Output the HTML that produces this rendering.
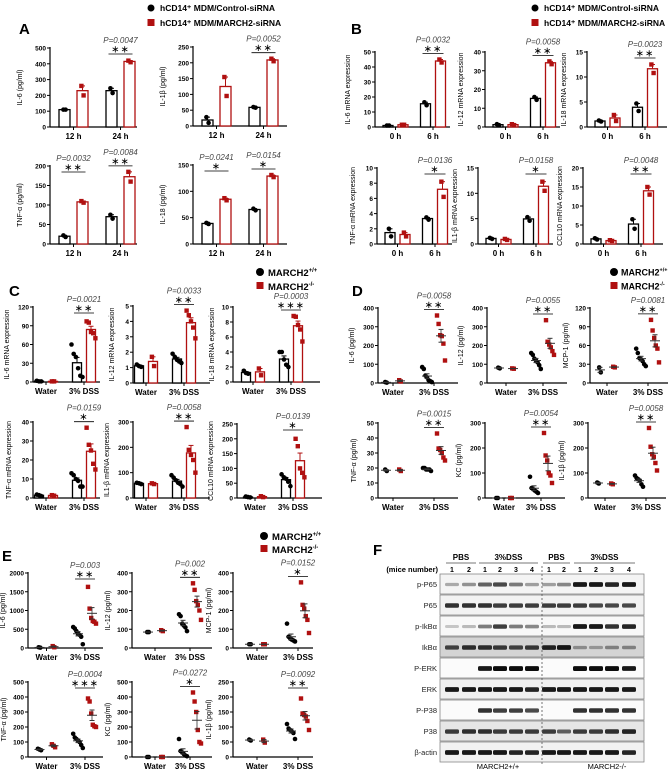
<!DOCTYPE html>
<html><head><meta charset="utf-8"><style>
body{margin:0;background:#fff}
svg{display:block;font-family:"Liberation Sans",Arial,sans-serif}
</style></head><body>
<svg id="fig" width="669" height="770" viewBox="0 0 669 770" xmlns="http://www.w3.org/2000/svg">
<g font-weight="bold" font-size="15" fill="#000">
<text x="19" y="34">A</text>
<text x="351" y="34">B</text>
<text x="9" y="296">C</text>
<text x="352" y="296">D</text>
<text x="2" y="561">E</text>
<text x="373" y="555">F</text>
</g>
<g font-weight="bold" font-size="8.5">
<circle cx="151" cy="8" r="3.5" fill="#000"/><text x="160" y="11">hCD14⁺ MDM/Control-siRNA</text>
<rect x="147.5" y="19" width="7" height="7" fill="#b01010"/><text x="160" y="26">hCD14⁺ MDM/MARCH2-siRNA</text>
</g>
<g font-weight="bold" font-size="8.5">
<circle cx="535" cy="8" r="3.5" fill="#000"/><text x="544" y="11">hCD14⁺ MDM/Control-siRNA</text>
<rect x="531.5" y="19" width="7" height="7" fill="#b01010"/><text x="544" y="26">hCD14⁺ MDM/MARCH2-siRNA</text>
</g>
<g font-weight="bold" font-size="9.5">
<circle cx="260" cy="272" r="4" fill="#000"/><text x="268" y="276">MARCH2<tspan font-size="6" dy="-4">+/+</tspan></text>
<rect x="256.5" y="282" width="7" height="7" fill="#b01010"/><text x="268" y="290">MARCH2<tspan font-size="6" dy="-4">-/-</tspan></text>
</g>
<g font-weight="bold" font-size="9">
<circle cx="614" cy="272" r="4" fill="#000"/><text x="621" y="275.5">MARCH2<tspan font-size="5.5" dy="-4">+/+</tspan></text>
<rect x="610.5" y="282" width="7" height="7" fill="#b01010"/><text x="621" y="289.5">MARCH2<tspan font-size="5.5" dy="-4">-/-</tspan></text>
</g>
<g font-weight="bold" font-size="9.5">
<circle cx="264" cy="536" r="4" fill="#000"/><text x="272" y="540">MARCH2<tspan font-size="6" dy="-4">+/+</tspan></text>
<rect x="260.5" y="545" width="7" height="7" fill="#b01010"/><text x="272" y="553">MARCH2<tspan font-size="6" dy="-4">-/-</tspan></text>
</g>
<g id="charts"></g>
<g id="blot"></g>
</svg>
<script>
// ---------- data (per chart: control points & treatment points per group) ----------
const a1Ctrl=[[110,110],[245,215]], a1Trt=[[260,200],[420,410]];
const a2Ctrl=[[28,10],[60,58]], a2Trt=[[155,95],[213,205]];
const a3Ctrl=[[22,18],[75,65]], a3Trt=[[110,106],[185,160]];
const a4Ctrl=[[40,38],[67,64]], a4Trt=[[87,83],[131,127]];
const b1Ctrl=[[1,1],[16.5,14.5]], b1Trt=[[1.5,1.5],[45,43]];
const b2Ctrl=[[1.5,1],[16,14.5]], b2Trt=[[1.5,1],[35,33.5]];
const b3Ctrl=[[1.3,1.1],[4.7,3.2]], b3Trt=[[2.4,1.2],[12.5,10.8]];
const b4Ctrl=[[2,1],[3.5,3.2]], b4Trt=[[1.5,1],[8.2,6.2]];
const b5Ctrl=[[1.2,1],[5.3,4.6]], b5Trt=[[1,0.8],[12.3,10.5]];
const b6Ctrl=[[1.5,1.2],[6.5,4]], b6Trt=[[1,0.8],[15,13]];
const c1Ctrl=[[2,1,1],[60,45,40,22,10,8]], c1Trt=[[1,1],[97,95,80,78,70]];
const c2Ctrl=[[1.2,1.1,1.05],[1.9,1.7,1.5,1.4,1.3]], c2Trt=[[1.7,1.1],[4.7,4.4,4.0,3.6,2.9]];
const c3Ctrl=[[1.5,1.2,1.1],[4.0,4.0,3.0,2.3,2.0]], c3Trt=[[1.8,0.9],[8.8,8.7,7.6,7.0,5.4]];
const c4Ctrl=[[1.8,1.5,1.0],[13,12,10,9,6,6]], c4Trt=[[1.5,1.2],[37,28,25,18,15]];
const c5Ctrl=[[60,58,55],[90,80,70,60,55,45]], c5Trt=[[58,55],[280,190,170,150,100]];
const c6Ctrl=[[5,3,2],[80,70,65,55,40]], c6Trt=[[6,3],[200,175,100,85,70]];
const d1Ctrl=[[5,2],[85,75,40,30,15,10,5]], d1Trt=[[15,8],[360,315,255,250,210,120]];
const d2Ctrl=[[82,78],[160,150,130,120,110,95,75]], d2Trt=[[78,76],[335,220,205,190,170,150]];
const d3Ctrl=[[25,17],[55,48,40,38,35,30,27]], d3Trt=[[26,25],[101,84,72,60,55,33]];
const d4Ctrl=[[19,18],[20,20,19,19,19,18]], d4Trt=[[19,18],[43,33,32,30,27,25]];
const d5Ctrl=[[0,0],[85,40,35,30,25,20]], d5Trt=[[0,0],[260,170,150,100,90,60]];
const d6Ctrl=[[62,58],[90,80,75,70,55,45]], d6Trt=[[58,55],[280,205,175,165,140,110]];
const e1Ctrl=[[20,10],[560,520,450,380,350,300,100]], e1Trt=[[50,20],[1630,1050,800,720,700,650]];
const e2Ctrl=[[85,85],[180,170,130,120,110,90]], e2Trt=[[95,90],[345,310,250,230,200,150]];
const e3Ctrl=[[20,20],[130,60,50,45,40,35]], e3Trt=[[20,20],[350,230,210,170,150,80]];
const e4Ctrl=[[55,50,45],[155,130,120,110,100,80,60]], e4Trt=[[85,75,65],[390,370,290,215,205,200]];
const e5Ctrl=[[0,0],[120,40,30,20,10,5]], e5Trt=[[0,0],[430,370,300,180,100,90]];
const e6Ctrl=[[58,55],[110,95,90,85,80,60]], e6Trt=[[58,48],[195,145,140,135,120,90]];
const timeLabels=["12 h","24 h"], mrnaLabels=["0 h","6 h"], dssLabels=["Water","3% DSS"];
const aP=[[null,"P=0.0047"],[null,"P=0.0052"],["P=0.0032","P=0.0084"],["P=0.0241","P=0.0154"]];
const aStars=[[null,"**"],[null,"**"],["**","**"],["*","*"]];
const bP=["P=0.0032","P=0.0058","P=0.0023","P=0.0136","P=0.0158","P=0.0048"];
const bStars=["**","**","**","*","*","**"];
const cP=["P=0.0021","P=0.0033","P=0.0003","P=0.0159","P=0.0058","P=0.0139"];
const cStars=["**","**","***","*","**","*"];
const dP=["P=0.0058","P=0.0055","P=0.0081","P=0.0015","P=0.0054","P=0.0058"];
const dStars=["**","**","**","**","**","**"];
const eP=["P=0.003","P=0.002","P=0.0152","P=0.0004","P=0.0272","P=0.0092"];
const eStars=["**","**","*","***","*","**"];
const blotRows=["p-P65","P65","p-IkBα","IkBα","P-ERK","ERK","P-P38","P38","β-actin"];
const blotIntensity=[
[0.3,0.4,0.6,0.7,0.5,0.35,0.35,0.45,0.9,0.9,0.85,0.9],
[0.8,0.8,0.8,0.75,0.75,0.75,0.75,0.75,0.75,0.7,0.7,0.7],
[0.2,0.25,0.5,0.75,0.5,0.45,0.25,0.25,0.9,0.9,0.8,0.85],
[0.7,0.8,0.8,0.75,0.7,0.75,0.85,0.9,0.35,0.3,0.4,0.4],
[0,0,0.9,0.95,0.95,0.95,0,0,0.95,0.95,0.95,0.9],
[0.9,0.9,0.9,0.9,0.9,0.85,0.9,0.9,0.9,0.9,0.9,0.9],
[0,0,0.8,0.75,0.75,0.7,0,0,0.8,0.8,0.8,0.8],
[0.75,0.8,0.8,0.75,0.75,0.75,0.75,0.6,0.75,0.75,0.8,0.85],
[0.9,0.9,0.9,0.9,0.85,0.85,0.9,0.9,0.9,0.9,0.9,0.85]];
const miceNumbers=["1","2","1","2","3","4","1","2","1","2","3","4"];

// ---------- drawing ----------
const NS="http://www.w3.org/2000/svg";
const RED="#b01010";
function el(tag,attrs,parent,txt){const e=document.createElementNS(NS,tag);for(const k in attrs)e.setAttribute(k,attrs[k]);if(txt!=null)e.textContent=txt;parent.appendChild(e);return e;}
const mean=a=>a.reduce((s,v)=>s+v,0)/a.length;
const sem=a=>{const m=mean(a);if(a.length<2)return 0;return Math.sqrt(a.reduce((s,v)=>s+(v-m)*(v-m),0)/(a.length-1))/Math.sqrt(a.length);};

function chart(c){
  const root=document.getElementById('charts');
  const g=el('g',{},root);
  
  
  const y=v=>c.y0-(v/c.max)*(c.y0-c.yTop);
  const gx=i=>c.x0+c.g[i];
  el('line',{x1:c.x0,y1:c.yTop-1,x2:c.x0,y2:c.y0,stroke:'#000','stroke-width':1.2},g);
  el('line',{x1:c.x0,y1:c.y0,x2:c.x0+c.len,y2:c.y0,stroke:'#000','stroke-width':1.2},g);
  for(let v=0;v<=c.max+1e-9;v+=c.step){
    el('line',{x1:c.x0-3,y1:y(v),x2:c.x0,y2:y(v),stroke:'#000','stroke-width':1},g);
    const t=el('text',{x:c.x0-4,y:y(v)+2.5,'text-anchor':'end','font-size':6.5,'font-weight':'bold'},g,String(Math.round(v*100)/100));
    
  }
  const yl=el('text',{transform:`translate(${c.x0-c.ylOff},${(c.y0+c.yTop)/2}) rotate(-90)`,'text-anchor':'middle','font-size':7},g,c.ylabel);
  
  for(let i=0;i<2;i++){
    el('line',{x1:gx(i),y1:c.y0,x2:gx(i),y2:c.y0+3,stroke:'#000'},g);
    const t=el('text',{x:gx(i),y:c.y0+12,'text-anchor':'middle','font-size':8,'font-weight':'bold'},g,c.xl[i]);
    
    [c.ctrl[i],c.trt[i]].forEach((pts,s)=>{
      const cx=gx(i)+(s?1:-1)*c.off, col=s?RED:'#000';
      const m=mean(pts),e=sem(pts);
      if(c.bar){
        const b=el('rect',{x:cx-c.bw/2,y:y(m),width:c.bw,height:c.y0-y(m),fill:'#fff',stroke:col,'stroke-width':1.3},g);
        
        el('line',{x1:cx,y1:y(m),x2:cx,y2:y(m+e),stroke:col},g);
        el('line',{x1:cx-2.5,y1:y(m+e),x2:cx+2.5,y2:y(m+e),stroke:col},g);
      }
      pts.forEach((v,k)=>{
        const px=cx+(k-(pts.length-1)/2)*(c.bar?2.2:1.6);
        if(s){const r=el('rect',{x:px-2.2,y:y(v)-2.2,width:4.4,height:4.4,fill:RED},g);}
        else{const r=el('circle',{cx:px,cy:y(v),r:2.3,fill:'#000'},g);}
      });
      if(!c.bar){
        el('line',{x1:cx-5,y1:y(m),x2:cx+5,y2:y(m),stroke:'#333','stroke-width':1},g);
        el('line',{x1:cx,y1:y(m-e),x2:cx,y2:y(m+e),stroke:'#333','stroke-width':0.8},g);
        el('line',{x1:cx-2.5,y1:y(m+e),x2:cx+2.5,y2:y(m+e),stroke:'#333'},g);
        el('line',{x1:cx-2.5,y1:y(m-e),x2:cx+2.5,y2:y(m-e),stroke:'#333'},g);
      }
    });
    if(c.p[i]){
      const minY=Math.min(...c.trt[i].map(v=>y(v)),...c.ctrl[i].map(v=>y(v)));
      const lineY=Math.min(minY-6,c.yTop+6);
      el('line',{x1:gx(i)-c.off-3,y1:lineY,x2:gx(i)+c.off+3,y2:lineY,stroke:'#000','stroke-width':0.8},g);
      const st=el('text',{x:gx(i),y:lineY-1.5,'text-anchor':'middle','font-size':10,'letter-spacing':'1'},g,c.st[i].replace(/\*/g,'∗'));
      
      const pt=el('text',{x:gx(i),y:lineY-11,'text-anchor':'middle','font-size':8,'font-style':'italic',fill:'#444'},g,c.p[i]);
      
    }
  }
}
function spec(name,x0,y0,yTop,len,gg,off,bw,max,step,ylabel,xl,ctrl,trt,p,st,bar,ylOff){
  chart({name,x0,y0,yTop,len,g:gg,off,bw,max,step,ylabel,xl,ctrl,trt,p,st,bar,ylOff:ylOff||30});
}
const aG=[23.5,70.5];
spec('chart-a-il6',50,127,48,87,aG,9,11,500,100,'IL-6 (pg/ml)',timeLabels,a1Ctrl,a1Trt,aP[0],aStars[0],true,28);
spec('chart-a-il1b',193,126,47,94,aG,9,11,250,50,'IL-1β (pg/ml)',timeLabels,a2Ctrl,a2Trt,aP[1],aStars[1],true,28);
spec('chart-a-tnf',50,244,166,87,aG,9,11,200,50,'TNF-α (pg/ml)',timeLabels,a3Ctrl,a3Trt,aP[2],aStars[2],true,28);
spec('chart-a-il18',193,244,165,94,aG,9,11,150,50,'IL-18 (pg/ml)',timeLabels,a4Ctrl,a4Trt,aP[3],aStars[3],true,28);
const bG=[20.5,58];
const one=(p)=>[null,p];
spec('chart-b-il6',375,127,52,75,bG,7.5,10,50,10,'IL-6 mRNA expression',mrnaLabels,b1Ctrl,b1Trt,one(bP[0]),one(bStars[0]),true,25);
spec('chart-b-il12',485,127,52,75,bG,7.5,10,40,10,'IL-12 mRNA expression',mrnaLabels,b2Ctrl,b2Trt,one(bP[1]),one(bStars[1]),true,22);
spec('chart-b-il18',587,127,52,80,bG,7.5,10,15,5,'IL-18 mRNA expression',mrnaLabels,b3Ctrl,b3Trt,one(bP[2]),one(bStars[2]),true,21);
spec('chart-b-tnf',377,244,168,75,bG,7.5,10,10,2,'TNF-α mRNA expression',mrnaLabels,b4Ctrl,b4Trt,one(bP[3]),one(bStars[3]),true,22);
spec('chart-b-il1b',478,244,168,75,bG,7.5,10,15,5,'IL1-β mRNA expression',mrnaLabels,b5Ctrl,b5Trt,one(bP[4]),one(bStars[4]),true,21);
spec('chart-b-ccl10',583,244,168,80,bG,7.5,10,20,5,'CCL10 mRNA expression',mrnaLabels,b6Ctrl,b6Trt,one(bP[5]),one(bStars[5]),true,21);
const cG=[13,51];
spec('chart-c-il6',33,382,307,67,cG,7,9,120,30,'IL-6 mRNA expression',dssLabels,c1Ctrl,c1Trt,one(cP[0]),one(cStars[0]),true,24);
spec('chart-c-il12',133,383,306,77,cG,7,9,5,1,'IL-12 mRNA expression',dssLabels,c2Ctrl,c2Trt,one(cP[1]),one(cStars[1]),true,19);
spec('chart-c-il18',233,382,307,87,[20,58],7,9,10,2,'IL-18 mRNA expression',dssLabels,c3Ctrl,c3Trt,one(cP[2]),one(cStars[2]),true,19);
spec('chart-c-tnf',33,498,422,67,cG,7,9,40,10,'TNF-α mRNA expression',dssLabels,c4Ctrl,c4Trt,one(cP[3]),one(cStars[3]),true,22);
spec('chart-c-il1b',133,498,422,77,cG,7,9,300,100,'IL1-β mRNA expression',dssLabels,c5Ctrl,c5Trt,one(cP[4]),one(cStars[4]),true,24);
spec('chart-c-ccl10',237,498,424,85,[18,56],7,9,250,50,'CCL10 mRNA expression',dssLabels,c6Ctrl,c6Trt,one(cP[5]),one(cStars[5]),true,24);
const dG=[15,56];
spec('chart-d-il6',378,383,308,80,dG,7,0,400,100,'IL-6 (pg/ml)',dssLabels,d1Ctrl,d1Trt,one(dP[0]),one(dStars[0]),false,24);
spec('chart-d-il12',487,383,308,80,[19,56],7,0,400,100,'IL-12 (pg/ml)',dssLabels,d2Ctrl,d2Trt,one(dP[1]),one(dStars[1]),false,24);
spec('chart-d-mcp1',590,383,308,78,[17,58],7,0,120,30,'MCP-1 (pg/ml)',dssLabels,d3Ctrl,d3Trt,one(dP[2]),one(dStars[2]),false,22);
spec('chart-d-tnf',378,498,423,80,dG,7,0,50,10,'TNF-α (pg/ml)',dssLabels,d4Ctrl,d4Trt,one(dP[3]),one(dStars[3]),false,22);
spec('chart-d-kc',485,498,423,80,[19,56],7,0,300,100,'KC (pg/ml)',dssLabels,d5Ctrl,d5Trt,one(dP[4]),one(dStars[4]),false,24);
spec('chart-d-il1b',588,498,423,78,[17,58],7,0,300,100,'IL-1β (pg/ml)',dssLabels,d6Ctrl,d6Trt,one(dP[5]),one(dStars[5]),false,24);
const eG=[18.5,57];
spec('chart-e-il6',28,648,573,75,eG,7,0,2000,500,'IL-6 (pg/ml)',dssLabels,e1Ctrl,e1Trt,one(eP[0]),one(eStars[0]),false,23);
spec('chart-e-il12',132,648,573,80,[23,58],7,0,400,100,'IL-12 (pg/ml)',dssLabels,e2Ctrl,e2Trt,one(eP[1]),one(eStars[1]),false,22);
spec('chart-e-mcp1',233,648,573,80,[24,65],7,0,400,100,'MCP-1 (pg/ml)',dssLabels,e3Ctrl,e3Trt,one(eP[2]),one(eStars[2]),false,22);
spec('chart-e-tnf',28,757,682,75,eG,7,0,500,100,'TNF-α (pg/ml)',dssLabels,e4Ctrl,e4Trt,one(eP[3]),one(eStars[3]),false,22);
spec('chart-e-kc',132,757,682,80,[23,58],7,0,500,100,'KC (pg/ml)',dssLabels,e5Ctrl,e5Trt,one(eP[4]),one(eStars[4]),false,22);
spec('chart-e-il1b',233,757,682,80,[24,65],7,0,250,50,'IL-1β (pg/ml)',dssLabels,e6Ctrl,e6Trt,one(eP[5]),one(eStars[5]),false,22);

(function(){
  const b=document.getElementById('blot');
  const lanes=[452,469,485,500,516,532,549,564,580,596,612,629];
  const top=574,rh=21,bx=440,bw=204;
  const heads=[["PBS",452,470],["3%DSS",485,532],["PBS",549,564],["3%DSS",580,629]];
  heads.forEach(h=>{
    const t=el('text',{x:(h[1]+h[2])/2,y:560,'text-anchor':'middle','font-size':8,'font-weight':'bold'},b,h[0]);
    
    el('line',{x1:h[1]-6,y1:563,x2:h[2]+6,y2:563,stroke:'#777','stroke-width':1},b);
  });
  el('text',{x:438,y:572,'text-anchor':'end','font-size':7.5,'font-weight':'bold'},b,'(mice number)');
  miceNumbers.forEach((n,i)=>el('text',{x:lanes[i],y:572,'text-anchor':'middle','font-size':7,'font-weight':'bold'},b,n));
  const bgs=['#f4f4f4','#f2f2f2','#f8f8f8','#d4d4d4','#fbfbfb','#f0f0f0','#fbfbfb','#e6e6e6','#f2f2f2'];
  blotRows.forEach((name,r)=>{
    const y0=top+r*rh;
    const row=el('g',{},b);
    
    
    el('rect',{x:bx,y:y0,width:bw,height:rh-1,fill:bgs[r],stroke:'#888','stroke-width':0.8},row);
    el('text',{x:437,y:y0+13,'text-anchor':'end','font-size':7.5,fill:'#222'},row,name);
    blotIntensity[r].forEach((v,i)=>{
      if(v<=0)return;
      const h=2.5+v*2.5;
      const band=el('rect',{x:lanes[i]-7,y:y0+rh/2-h/2,width:14,height:h,rx:1.5,fill:'#000',opacity:Math.min(1,v)},row);
      
      
    });
  });
  el('line',{x1:542,y1:566,x2:542,y2:765,stroke:'#555','stroke-dasharray':'2,2','stroke-width':0.8},b);
  el('text',{x:498,y:769,'text-anchor':'middle','font-size':7.5},b,'MARCH2+/+');
  el('text',{x:607,y:769,'text-anchor':'middle','font-size':7.5},b,'MARCH2-/-');
})();
</script>
</body></html>
